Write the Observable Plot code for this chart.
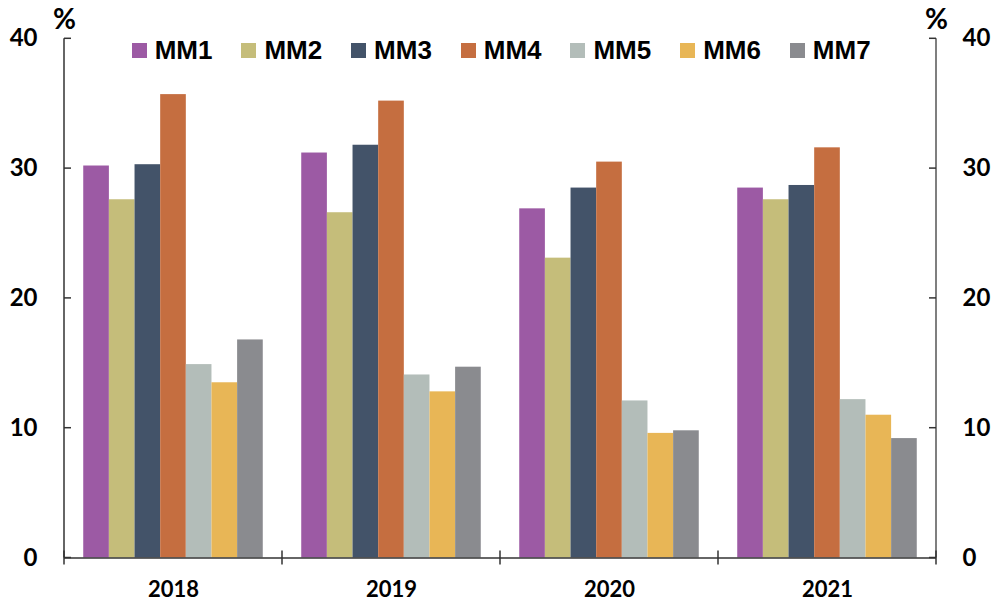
<!DOCTYPE html>
<html>
<head>
<meta charset="utf-8">
<script src="https://cdn.jsdelivr.net/npm/d3@7"></script>
<script src="https://cdn.jsdelivr.net/npm/@observablehq/plot@0.6"></script>
<style>
  html, body { margin: 0; padding: 0; background: #fff; }
  #wrap { position: relative; width: 1000px; height: 602px; }
  #legend {
    position: absolute; left: 131.7px; top: 38px; display: flex;
    font-family: "Liberation Sans", Arial, sans-serif; font-weight: bold; font-size: 26px; color: #000;
  }
  #legend .item { width: 109.7px; display: flex; align-items: center; height: 24px; }
  #legend .sw { width: 15px; height: 15px; margin-right: 8px; flex: none; }
</style>
</head>
<body>
<div id="wrap"><div id="legend"></div></div>
<script>
// Categories, series and their values (%)
const years = ["2018", "2019", "2020", "2021"];
const series = ["MM1", "MM2", "MM3", "MM4", "MM5", "MM6", "MM7"];
const colors = ["#9c5aa4", "#c5bd7a", "#435369", "#c56e40", "#b3bdb9", "#e8b656", "#8a8b8f"];
const MM1 = [30.2, 31.2, 26.9, 28.5];
const MM2 = [27.6, 26.6, 23.1, 27.6];
const MM3 = [30.3, 31.8, 28.5, 28.7];
const MM4 = [35.7, 35.2, 30.5, 31.6];
const MM5 = [14.9, 14.1, 12.1, 12.2];
const MM6 = [13.5, 12.8, 9.6, 11.0];
const MM7 = [16.8, 14.7, 9.8, 9.2];
const yTicks = [0, 10, 20, 30, 40];

const valuesBySeries = [MM1, MM2, MM3, MM4, MM5, MM6, MM7];
const data = [];
years.forEach((year, i) => {
  series.forEach((s, j) => data.push({year, series: s, value: valuesBySeries[j][i]}));
});

// Unit label "%" above each vertical axis
const unitLeft = [{year: years[0], text: "%"}];
const unitRight = [{year: years[years.length - 1], text: "%"}];

const font = "Lato";

const chart = Plot.plot({
  width: 1000,
  height: 602,
  marginLeft: 62.7,
  marginRight: 62.3,
  marginTop: 38.3,
  marginBottom: 44.5,
  style: {fontFamily: font, fontWeight: "bold", color: "#000", background: "#fff"},
  fx: {domain: years, padding: 0},
  x: {domain: series, paddingInner: 0, paddingOuter: 0.75, round: false, axis: null},
  y: {domain: [0, 40]},
  color: {domain: series, range: colors},
  marks: [
    Plot.barY(data, {fx: "year", x: "series", y: "value", fill: "series"}),
    Plot.ruleY([0], {stroke: "#333", strokeWidth: 1.5}),
    Plot.axisY({anchor: "left", ticks: yTicks, tickSize: 0, tickPadding: 27, fontSize: 24, fontFamily: font, fontWeight: "bold", fill: "#000", label: null}),
    Plot.axisY({anchor: "right", ticks: yTicks, tickSize: 0, tickPadding: 26, fontSize: 24, fontFamily: font, fontWeight: "bold", fill: "#000", label: null}),
    Plot.axisFx({anchor: "bottom", tickSize: 0, tickPadding: 23, fontSize: 22, fontFamily: font, fontWeight: "bold", fill: "#000", label: null}),
    Plot.text(unitLeft, {fx: "year", text: "text", frameAnchor: "top-left", dy: -19, textAnchor: "middle", lineAnchor: "middle", fontSize: 28, fontFamily: font, fontWeight: "bold", fill: "#000"}),
    Plot.text(unitRight, {fx: "year", text: "text", frameAnchor: "top-right", dy: -19, textAnchor: "middle", lineAnchor: "middle", fontSize: 28, fontFamily: font, fontWeight: "bold", fill: "#000"})
  ]
});

document.getElementById("wrap").prepend(chart);

// Axis lines and tick marks, placed from the plot's own scales
const fx = chart.scale("fx");
const y = chart.scale("y");
const edges = years.map(d => fx.apply(d));
edges.push(fx.apply(years[years.length - 1]) + fx.bandwidth);
const x0 = edges[0], x1 = edges[edges.length - 1];
const y0 = y.apply(0), yTop = y.apply(40);
const g = d3.select(chart).append("g").attr("stroke", "#333").attr("stroke-width", 1.5).attr("fill", "none");
g.append("line").attr("x1", x0).attr("x2", x0).attr("y1", yTop).attr("y2", y0);
g.append("line").attr("x1", x1).attr("x2", x1).attr("y1", yTop).attr("y2", y0).attr("stroke", "#555");
yTicks.forEach(t => {
  g.append("line").attr("x1", x0).attr("x2", x0 + 7).attr("y1", y.apply(t)).attr("y2", y.apply(t));
  g.append("line").attr("x1", x1 - 7).attr("x2", x1).attr("y1", y.apply(t)).attr("y2", y.apply(t));
});
edges.forEach(e => {
  g.append("line").attr("x1", e).attr("x2", e).attr("y1", y0 - 7).attr("y2", y0 + 7);
});

// Legend
const legend = d3.select("#legend");
series.forEach((s, i) => {
  const item = legend.append("div").attr("class", "item");
  item.append("div").attr("class", "sw").style("background", colors[i]);
  item.append("span").text(s);
});
</script>
</body>
</html>
